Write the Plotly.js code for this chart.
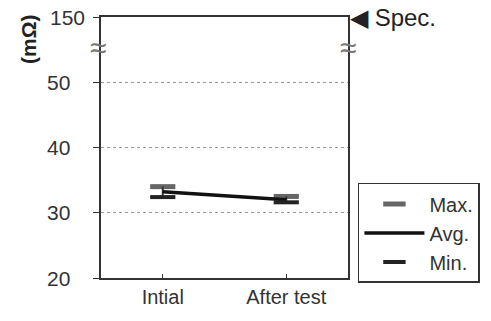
<!DOCTYPE html>
<html><head><meta charset="utf-8">
<script src="https://cdn.plot.ly/plotly-3.0.1.min.js"></script>
<style>html,body{margin:0;padding:0;background:#fff;}</style>
</head><body>
<div id="chart" style="width:491px;height:321px;"></div>
<script>
var categories = ['Intial', 'After test'];
var maxVals = [34.0, 32.5];
var avgVals = [33.2, 32.0];
var minVals = [32.4, 31.6];
var tickVals = [20, 30, 40, 50, 60];
var tickLabels = ['20', '30', '40', '50', '150'];
var breakLevel = 55.4;

var errPlus = avgVals.map(function(v,i){return maxVals[i]-v;});
var errMinus = avgVals.map(function(v,i){return v-minVals[i];});

var traces = [
  {x: categories, y: maxVals, name: 'Max.', mode: 'markers', type: 'scatter',
   marker: {symbol: 'line-ew', size: 18, line: {width: 5, color: '#666'}}},
  {x: categories, y: avgVals, name: 'Avg.', mode: 'lines', type: 'scatter',
   line: {color: '#111', width: 3.5},
   error_y: {type: 'data', symmetric: false, array: errPlus, arrayminus: errMinus,
             color: '#333', thickness: 2, width: 0}},
  {x: categories, y: minVals, name: 'Min.', mode: 'markers', type: 'scatter',
   marker: {symbol: 'line-ew', size: 18, line: {width: 4, color: '#222'}}}
];

var annotations = [
  {xref: 'paper', yref: 'y', x: 0, y: breakLevel, text: '≈', showarrow: false,
   font: {size: 30, color: '#777'}, xanchor: 'center', yanchor: 'middle', xshift: -3},
  {xref: 'paper', yref: 'y', x: 1, y: breakLevel, text: '≈', showarrow: false,
   font: {size: 30, color: '#777'}, xanchor: 'center', yanchor: 'middle'},
  {xref: 'paper', yref: 'y', x: 1, y: 60, text: '◀ Spec.', showarrow: false,
   font: {size: 24, color: '#222'}, xanchor: 'left', yanchor: 'middle'},
  {xref: 'paper', yref: 'paper', x: 0, y: 0.916, text: '<b>(mΩ)</b>', showarrow: false,
   textangle: -90, font: {size: 21, color: '#222'}, xanchor: 'center', yanchor: 'middle',
   xshift: -72}
];
tickVals.forEach(function(v, i){
  annotations.push({xref: 'paper', yref: 'y', x: 0, y: v, text: tickLabels[i],
    showarrow: false, font: {size: 21, color: '#333'}, xanchor: 'left', yanchor: 'middle',
    xshift: (tickLabels[i].length > 2 ? -53 : -56)});
});

var layout = {
  width: 491, height: 321,
  margin: {l: 101, r: 142, t: 17, b: 43},
  paper_bgcolor: '#fff', plot_bgcolor: '#fff',
  font: {family: 'Arial, Liberation Sans, sans-serif', color: '#333'},
  showlegend: true,
  legend: {x: 1.036, xanchor: 'left', y: 0.364, yanchor: 'top',
           bordercolor: '#333', borderwidth: 1.5, bgcolor: '#fff',
           font: {size: 20, color: '#333'}, tracegroupgap: 0,
           itemwidth: 60},
  xaxis: {type: 'category', range: [-0.5, 1.5], showgrid: false,
          showline: true, linecolor: '#333', linewidth: 2, mirror: true,
          ticks: 'inside', ticklen: 4, tickcolor: '#333',
          tickfont: {size: 20, color: '#333'}, zeroline: false},
  yaxis: {range: [20, 60], tickvals: tickVals, showticklabels: false,
          showline: true, linecolor: '#333', linewidth: 2, mirror: true,
          ticks: 'outside', ticklen: 6, tickcolor: '#333',
          showgrid: true, gridcolor: '#999', griddash: 'dot', gridwidth: 1,
          zeroline: false},
  annotations: annotations
};

Plotly.newPlot('chart', traces, layout, {displayModeBar: false, staticPlot: true});
</script>
</body></html>
